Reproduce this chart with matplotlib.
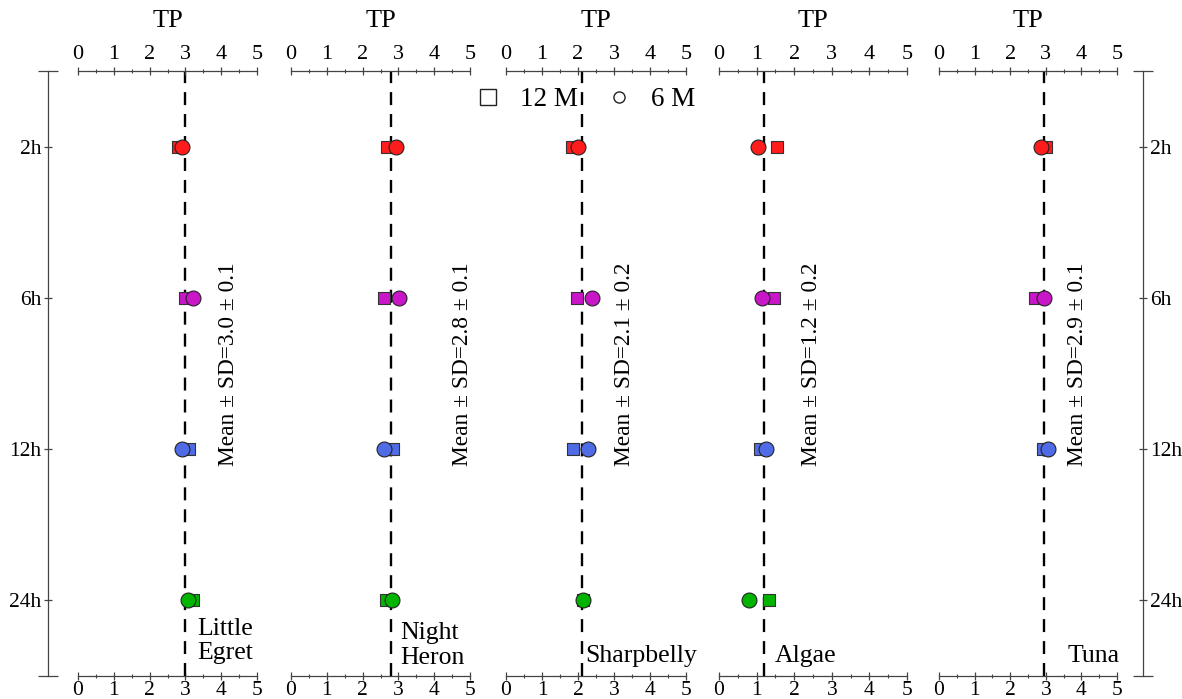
import matplotlib
matplotlib.use("Agg")
import matplotlib.pyplot as plt
from matplotlib.lines import Line2D
import numpy as np

plt.rcParams['font.family'] = ['Liberation Serif', 'DejaVu Serif']

# ---------------- data ----------------
species = ["Little\nEgret", "Night\nHeron", "Sharpbelly", "Algae", "Tuna"]
times = ["2h", "6h", "12h", "24h"]
mean_labels = ["Mean \u00b1 SD=3.0 \u00b1 0.1", "Mean \u00b1 SD=2.8 \u00b1 0.1",
               "Mean \u00b1 SD=2.1 \u00b1 0.2", "Mean \u00b1 SD=1.2 \u00b1 0.2",
               "Mean \u00b1 SD=2.9 \u00b1 0.1"]
mean_lines = [3.0, 2.8, 2.1, 1.2, 2.95]
# TP values at 12 months (squares) and 6 months (circles); None = missing
tp_12m = [
    [2.78, 3.00, 3.10, 3.20],
    [2.67, 2.60, 2.86, 2.65],
    [1.84, 1.98, 1.87, 2.15],
    [1.55, 1.47, 1.10, 1.33],
    [3.00, 2.69, 2.92, None],
]
tp_6m = [
    [2.90, 3.20, 2.90, 3.08],
    [2.93, 3.03, 2.60, 2.82],
    [1.99, 2.40, 2.29, 2.15],
    [1.03, 1.15, 1.25, 0.80],
    [2.87, 2.96, 3.06, None],
]
time_colors = ["#ff1c1c", "#c816c8", "#4f6be6", "#00b400"]
tp_ticks = [0, 1, 2, 3, 4, 5]

# ---------------- layout (figure fractions) ----------------
W, H = 1182, 699
fig = plt.figure(figsize=(W / 100, H / 100), dpi=100)
y_top, y_bot = 71, 676
ax_b = 1 - y_bot / H
ax_h = (y_bot - y_top) / H
panel_px = [(78, 257), (291, 470), (506, 686), (719, 907), (939, 1117)]
species_pos = [(3.32, 4.27), (3.05, 4.30), (2.19, 4.37), (1.49, 4.37), (3.62, 4.37)]
mean_pos = [4.19, 4.78, 3.28, 2.45, 3.88]

axis_col = "#444444"

# outer axes with row labels
ax0 = fig.add_axes([48 / W, ax_b, (1143 - 48) / W, ax_h])
ax0.set_xlim(0, 1)
ax0.set_ylim(4.5, 0.5)
ax0.set_xticks([])
for s in ["top", "bottom"]:
    ax0.spines[s].set_visible(False)
for s in ["left", "right"]:
    ax0.spines[s].set_color(axis_col)
    ax0.spines[s].set_linewidth(0.9)
ypos = np.arange(1, len(times) + 1)
ax0.set_yticks(list(ypos))
ax0.set_yticklabels(times)
ax0.set_yticks([0.5, 4.5], minor=True)
ax0.tick_params(axis='y', which='major', direction='inout', length=6, width=0.9,
                color=axis_col, labelsize=15.5, pad=2, left=True, right=True,
                labelleft=True, labelright=True)
ax0.tick_params(axis='y', which='minor', direction='inout', length=14, width=0.9,
                color=axis_col, left=True, right=True)
ax0.patch.set_alpha(0)

for i, (x0, x1) in enumerate(panel_px):
    ax = fig.add_axes([x0 / W, ax_b, (x1 - x0) / W, ax_h])
    ax.patch.set_alpha(0)
    ax.set_xlim(0, 5)
    ax.set_ylim(4.5, 0.5)
    for s in ["left", "right", "bottom"]:
        ax.spines[s].set_visible(False)
    ax.spines["top"].set_color(axis_col)
    ax.spines["top"].set_linewidth(0.9)
    ax.set_yticks([])
    ax.set_xticks(tp_ticks)
    ax.set_xticks(np.arange(0.5, 5, 1.0), minor=True)
    ax.tick_params(axis='x', which='major', direction='inout', length=6, width=0.9,
                   color=axis_col, labelsize=16, top=True, bottom=False,
                   labeltop=True, labelbottom=False, pad=2)
    ax.tick_params(axis='x', which='minor', direction='inout', length=3.5, width=0.8,
                   color=axis_col, top=True, bottom=False)

    # bottom TP axis
    sec = ax.secondary_xaxis('bottom')
    sec.spines["bottom"].set_color(axis_col)
    sec.spines["bottom"].set_linewidth(0.9)
    sec.set_xticks(tp_ticks)
    sec.set_xticks(np.arange(0.5, 5, 1.0), minor=True)
    sec.tick_params(axis='x', which='major', direction='inout', length=6, width=0.9,
                    color=axis_col, labelsize=15.5, pad=14.3)
    sec.tick_params(axis='x', which='minor', direction='inout', length=3.5, width=0.8,
                    color=axis_col)
    for t in sec.xaxis.get_major_ticks():
        t.label1.set_verticalalignment('bottom')

    ax.annotate("TP", xy=(0.5, 1), xycoords='axes fraction', xytext=(0, 36),
                textcoords='offset points', ha='center', va='center', fontsize=19)

    ax.axvline(mean_lines[i], color='black', lw=1.7, ls=(0, (5.5, 3.8)), zorder=1)

    for j in range(len(times)):
        v12 = tp_12m[i][j]
        v6 = tp_6m[i][j]
        if v12 is not None:
            ax.scatter([v12], [ypos[j]], marker='s', s=85, color=time_colors[j],
                       edgecolors='#333333', linewidths=0.8, zorder=3)
        if v6 is not None:
            ax.scatter([v6], [ypos[j]], marker='o', s=115, color=time_colors[j],
                       edgecolors='#222222', linewidths=0.8, zorder=4)

    ax.text(mean_pos[i], 2.44, mean_labels[i], rotation=90, ha='center', va='center',
            fontsize=16.8)
    ax.text(species_pos[i][0], species_pos[i][1], species[i], ha='left', va='center',
            fontsize=18.5, linespacing=1.15)

handles = [Line2D([], [], marker='s', ls='none', markersize=11, markerfacecolor='white',
                  markeredgecolor='#222222', markeredgewidth=1.0),
           Line2D([], [], marker='o', ls='none', markersize=8, markerfacecolor='white',
                  markeredgecolor='#222222', markeredgewidth=1.0)]
fig.legend(handles, ["12 M", "6 M"], loc='center', bbox_to_anchor=(585 / W, 1 - 100 / H),
           ncol=2, frameon=False, fontsize=19.5, handletextpad=0.7, columnspacing=1.0,
           handlelength=1.0)

fig.savefig("out.png", dpi=100)
